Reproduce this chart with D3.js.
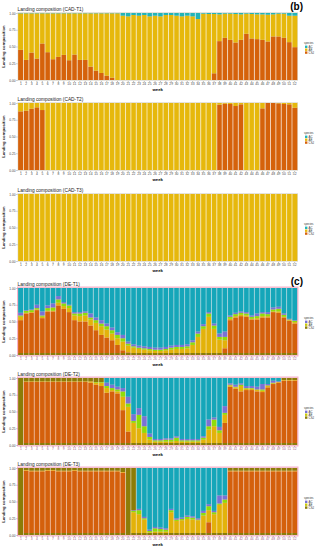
<!DOCTYPE html>
<html lang="en">
<head>
<meta charset="UTF-8">
<title>Landing composition</title>
<script src="https://d3js.org/d3.v7.min.js"></script>
<style>
  body { margin: 0; background: #fff; }
  svg text { font-family: "Liberation Sans", Arial, sans-serif; }
</style>
</head>
<body>
<div id="chart"></div>
<script>
var weeks = [1,2,3,4,5,6,7,8,9,10,11,12,13,14,15,16,17,18,19,20,21,22,23,24,25,26,
             27,28,29,30,31,32,33,34,35,36,37,38,39,40,41,42,43,44,45,46,47,48,49,50,51,52];
var yTicks = [0, 0.25, 0.5, 0.75, 1];
var species = ['AC', 'AE', 'CSJ'];

// ---- CAD panels: CSJ at the bottom, AE fills the rest, AC on top
var cadT1_CSJ = [0.45,0.30,0.41,0.32,0.545,0.415,0.31,0.345,0.375,0.295,0.38,0.30,0.30,
                 0.20,0.14,0.105,0.065,0.035,0,0,0,0,0,0,0,0,
                 0,0,0,0,0,0,0,0,0,0,0.10,0.58,0.63,
                 0.60,0.56,0.60,0.69,0.62,0.61,0.60,0.575,0.65,0.65,0.63,0.565,0.49];
var cadT1_AC = [0.005,0.005,0.005,0.005,0.005,0.005,0.005,0.005,0.005,0.005,0.005,0.005,0.005,
                0.005,0.005,0.005,0.005,0.005,0.005,0.04,0.05,0.03,0.04,0.03,0.05,0.04,
                0.05,0.03,0.03,0.04,0.05,0.04,0.05,0.09,0.01,0.015,0.015,0.02,0.01,
                0.01,0.015,0.02,0.01,0.015,0.02,0.02,0.025,0.02,0.01,0.01,0.04,0.04];

var cadT2_CSJ = [0.875,0.885,0.915,0.935,0.895,0,0,0,0,0,0,0,0,
                 0,0,0,0,0,0,0,0,0,0,0,0,0,
                 0,0,0,0,0,0,0,0,0,0,0,0.975,0.99,
                 0.985,0.955,0.98,0,0,0,0.92,1.0,1.0,0.995,0.985,0.98,0.93];
var cadT2_AC = [0,0,0,0,0,0,0,0,0,0,0,0,0, 0,0,0,0,0,0,0,0,0,0,0,0,0,
                0,0,0,0,0,0,0,0,0,0,0,0,0, 0,0,0,0,0,0,0,0,0,0,0,0,0];

var cadT3_CSJ = [0,0,0,0,0,0,0,0,0,0,0,0,0, 0,0,0,0,0,0,0,0,0,0,0,0,0,
                 0,0,0,0,0,0,0,0,0,0,0,0,0, 0,0,0,0,0,0,0,0,0,0,0,0,0];
var cadT3_AC = [0,0,0,0,0,0,0,0,0,0,0,0,0, 0,0,0,0,0,0,0,0,0,0,0,0,0,
                0,0,0,0,0,0,0,0,0,0,0,0,0, 0,0,0,0,0,0,0,0,0,0,0,0,0];

// ---- DE panels: olive base, orange, yellow, green, purple, then the rest (teal or olive)
var deT1_base = [0.03,0.03,0.03,0.03,0.03,0.03,0.03,0.03,0.03,0.03,0.03,0.03,0.03,
                 0.03,0.03,0.03,0.03,0.03,0.03,0.03,0.03,0.03,0.03,0.03,0.03,0.03,
                 0.03,0.03,0.03,0.03,0.03,0.03,0.03,0.03,0.03,0.03,0.03,0.03,0.03,
                 0.03,0.03,0.03,0.03,0.03,0.03,0.03,0.03,0.03,0.03,0.03,0.03,0.03];
var deT1_CSJ = [0.49,0.59,0.60,0.64,0.52,0.62,0.62,0.71,0.66,0.61,0.49,0.47,0.47,
                0.41,0.34,0.27,0.23,0.19,0.12,0.04,0.01,0,0,0,0,0,
                0,0,0,0,0,0,0,0,0,0,0,0,0.07,
                0.49,0.53,0.55,0.54,0.50,0.50,0.53,0.53,0.61,0.60,0.53,0.48,0.44];
var deT1_AE = [0.05,0.01,0.01,0.01,0.02,0.01,0.01,0.04,0.04,0.06,0.07,0.08,0.09,
               0.09,0.11,0.13,0.12,0.10,0.10,0.13,0.10,0.08,0.06,0.05,0.04,0.03,
               0.03,0.04,0.05,0.06,0.06,0.07,0.12,0.24,0.36,0.54,0.36,0.20,0.12,
               0.02,0.02,0.02,0.02,0.01,0.02,0.02,0.02,0.01,0.02,0.01,0.01,0.02];
var deT1_AEhi = [0.02,0.03,0.03,0.02,0.02,0.04,0.05,0.05,0.04,0.04,0.03,0.04,0.04,
                 0.03,0.04,0.04,0.05,0.05,0.05,0.05,0.03,0.02,0.02,0.02,0.02,0.02,
                 0.02,0.02,0.03,0.03,0.03,0.03,0.04,0.05,0.04,0.05,0.05,0.04,0.05,
                 0.03,0.03,0.03,0.03,0.03,0.03,0.04,0.03,0.03,0.04,0.03,0.01,0.02];
var deT1_AC = [0.04,0.01,0.01,0.05,0.06,0.04,0.06,0.05,0.02,0.01,0.02,0.02,0.02,
               0.06,0.04,0.05,0.04,0.04,0.04,0.05,0.03,0.03,0.03,0.03,0.03,0.03,
               0.03,0.03,0.03,0.03,0.03,0.03,0.03,0.03,0.03,0.02,0.03,0.05,0.08,
               0.02,0.02,0.02,0.02,0.02,0.04,0.02,0.03,0.03,0.03,0.02,0.01,0.01];
var deT1_rest = ('ttttttttttttt' + 'ttttttttttttt' + 'ttttttttttttt' + 'ttttttttttttt').split('');

var deT2_base = [1.0,0.03,0.03,0.03,0.03,0.03,0.03,0.03,0.03,0.03,0.03,0.03,0.03,
                 0.03,0.03,0.03,0.03,0.03,0.03,0.03,0.03,0.03,0.03,0.03,0.03,0.03,
                 0.03,0.03,0.03,0.03,0.03,0.03,0.03,0.03,0.03,0.03,0.03,0.03,0.03,
                 0.03,0.03,0.03,0.03,0.03,0.03,0.03,0.03,0.03,0.03,0.03,0.03,0.03];
var deT2_CSJ = [0,0.91,0.91,0.91,0.91,0.91,0.91,0.91,0.91,0.91,0.91,0.91,0.91,
                0.90,0.87,0.85,0.75,0.77,0.74,0.49,0.17,0,0,0,0,0,
                0,0,0,0,0,0,0,0,0,0,0,0,0.30,
                0.84,0.81,0.77,0.79,0.79,0.77,0.76,0.83,0.88,0.90,0.93,0.93,0.93];
var deT2_AE = [0,0.01,0.01,0.01,0.01,0.01,0.01,0.01,0.01,0.01,0.01,0.01,0.01,
               0.02,0.03,0.05,0.07,0.02,0.03,0.20,0.37,0.30,0.22,0.15,0.05,0.02,
               0.02,0.02,0.02,0.03,0.02,0.02,0.02,0.02,0.05,0.20,0.25,0.15,0.12,
               0.02,0.02,0.08,0.02,0.02,0.02,0.02,0.02,0.01,0.01,0.01,0.01,0.01];
var deT2_AEhi = [0,0,0,0,0,0,0,0,0,0,0,0,0,
                 0,0.01,0.01,0.03,0.03,0.03,0.08,0.05,0.03,0.20,0.10,0.04,0.02,
                 0.02,0.03,0.03,0.05,0.02,0.02,0.02,0.02,0.03,0.05,0.10,0.04,0.03,
                 0.01,0.01,0.02,0.01,0.01,0.01,0.02,0.01,0.01,0,0,0,0];
var deT2_AC = [0,0,0,0,0,0,0,0,0,0,0,0,0,
               0,0,0,0.05,0.05,0.04,0.05,0.10,0.10,0.10,0.15,0.05,0.02,
               0.02,0.02,0.02,0.02,0.02,0.02,0.02,0.02,0.02,0.10,0.03,0.05,0.10,
               0.02,0.03,0.02,0.03,0.03,0.04,0.08,0.02,0.03,0.01,0,0,0];
var deT2_rest = ('ooooooooooooo' + 'ooottttttttttt'.slice(0, 13) + 'ttttttttttttt' + 'ttttttttttooo').split('');

var deT3_base = [1.0,0.03,0.03,0.03,0.03,0.03,0.03,0.03,0.03,0.03,0.03,0.03,0.03,
                 0.03,0.03,0.03,0.03,0.03,0.03,0.03,1.0,0.03,0.03,0.03,0.03,0.03,
                 0.03,0.03,0.03,0.03,0.03,0.03,0.03,0.03,0.03,0.03,0.03,0.03,0.03,
                 0.03,0.03,0.03,0.03,0.03,0.03,0.03,0.03,0.03,0.03,0.03,0.03,0.03];
var deT3_CSJ = [0,0.93,0.92,0.92,0.92,0.93,0.93,0.92,0.92,0.92,0.93,0.92,0.92,
                0.92,0.92,0.92,0.92,0.92,0.92,0.90,0,0,0,0,0,0,
                0,0,0,0,0,0,0,0,0,0.16,0,0,0,
                0.92,0.92,0.92,0.92,0.92,0.92,0.92,0.92,0.92,0.92,0.92,0.92,0.92];
var deT3_AE = [0,0.01,0.01,0.01,0.01,0.01,0.01,0.01,0.01,0.01,0.01,0.01,0.01,
               0.01,0.01,0.01,0.01,0.01,0.01,0.01,0,0.31,0.28,0.20,0.01,0.02,
               0.02,0.02,0.31,0.18,0.19,0.21,0.20,0.19,0.26,0.18,0.28,0.42,0.45,
               0.01,0.01,0.01,0.01,0.01,0.01,0.01,0.01,0.01,0.01,0.01,0.01,0.01];
var deT3_AEhi = [0,0,0,0,0,0,0,0,0,0,0,0,0,
                 0,0,0,0,0,0,0,0,0.02,0.06,0.02,0.02,0.05,
                 0.04,0.03,0.03,0.02,0.02,0.03,0.03,0.01,0.04,0.06,0.03,0.02,0.05,
                 0,0,0,0,0,0,0,0,0,0,0,0,0];
var deT3_AC = [0,0,0,0,0,0,0,0,0,0,0,0,0,
               0,0,0,0,0,0,0,0,0.01,0.02,0.02,0.02,0.02,
               0.02,0.02,0.02,0.02,0.02,0.02,0.02,0.02,0.03,0.03,0.02,0.12,0.06,
               0,0,0,0,0,0,0,0,0,0,0,0,0];
var deT3_rest = ('ooooooooooooo' + 'oooooooootttt' + 'ttttttttttttt' + 'ooooooooooooo').split('');

// colours
var cadColor = {AC: '#22b4b9', AE: '#e6b80c', CSJ: '#d5620b'};
var deColor = {olive: '#8c7c08', orange: '#d4600c', yellow: '#e3b20a', green: '#8fdc0a',
               purple: '#7a72d4', teal: '#15a6b9'};
var deLegend = {AC: deColor.purple, AE: '#c9c80a', CSJ: deColor.olive};
var restColor = {t: deColor.teal, o: deColor.olive};

var panels = [
  {title: 'Landing composition (CAD-T1)', tag: '(b)', top: 13, de: false,
   layers: [{values: cadT1_CSJ, color: cadColor.CSJ}, {rest: 'AE'}, {values: cadT1_AC, color: cadColor.AC}]},
  {title: 'Landing composition (CAD-T2)', top: 103, de: false,
   layers: [{values: cadT2_CSJ, color: cadColor.CSJ}, {rest: 'AE'}, {values: cadT2_AC, color: cadColor.AC}]},
  {title: 'Landing composition (CAD-T3)', top: 194, de: false,
   layers: [{values: cadT3_CSJ, color: cadColor.CSJ}, {rest: 'AE'}, {values: cadT3_AC, color: cadColor.AC}]},
  {title: 'Landing composition (DE-T1)', tag: '(c)', top: 288, de: true,
   layers: [{values: deT1_base, color: deColor.olive}, {values: deT1_CSJ, color: deColor.orange},
            {values: deT1_AE, color: deColor.yellow}, {values: deT1_AEhi, color: deColor.green},
            {values: deT1_AC, color: deColor.purple}, {rest: deT1_rest}]},
  {title: 'Landing composition (DE-T2)', top: 378, de: true,
   layers: [{values: deT2_base, color: deColor.olive}, {values: deT2_CSJ, color: deColor.orange},
            {values: deT2_AE, color: deColor.yellow}, {values: deT2_AEhi, color: deColor.green},
            {values: deT2_AC, color: deColor.purple}, {rest: deT2_rest}]},
  {title: 'Landing composition (DE-T3)', top: 468, de: true,
   layers: [{values: deT3_base, color: deColor.olive}, {values: deT3_CSJ, color: deColor.orange},
            {values: deT3_AE, color: deColor.yellow}, {values: deT3_AEhi, color: deColor.green},
            {values: deT3_AC, color: deColor.purple}, {rest: deT3_rest}]}
];

var W = 324, H = 550, left = 17.5, right = 298, plotH = 67;

var svg = d3.select('#chart').append('svg')
    .attr('width', W).attr('height', H);

var x = d3.scaleBand().domain(weeks).range([left, right]).paddingInner(0).paddingOuter(0.12);

function segments(p) {
  var segs = [];
  weeks.forEach(function (w, i) {
    var known = d3.sum(p.layers, function (l) { return l.values ? l.values[i] : 0; });
    var y0 = 0;
    p.layers.forEach(function (l) {
      var v, c;
      if (l.values) { v = l.values[i]; c = l.color; }
      else {
        v = Math.max(0, 1 - known);
        c = typeof l.rest === 'string' ? cadColor[l.rest] : restColor[l.rest[i]];
      }
      var y1 = Math.min(1, y0 + v);
      if (y1 > y0) segs.push({week: w, y0: y0, y1: y1, color: c});
      y0 = y1;
    });
  });
  return segs;
}

panels.forEach(function (p) {
  var y = d3.scaleLinear().domain([0, 1]).range([p.top + plotH, p.top]);
  var g = svg.append('g');

  // panel background
  g.append('rect')
      .attr('x', left).attr('y', p.top - 1)
      .attr('width', right - left).attr('height', plotH + 2)
      .attr('fill', p.de ? '#f6c9d6' : '#e4e2dc');

  g.selectAll('rect.seg').data(segments(p)).join('rect')
      .attr('class', 'seg')
      .attr('x', function (d) { return x(d.week); })
      .attr('width', x.bandwidth())
      .attr('y', function (d) { return y(d.y1); })
      .attr('height', function (d) { return y(d.y0) - y(d.y1); })
      .attr('fill', function (d) { return d.color; });

  // light gaps between bars
  g.selectAll('line.sep').data(weeks.slice(1)).join('line')
      .attr('class', 'sep')
      .attr('x1', function (d) { return x(d); }).attr('x2', function (d) { return x(d); })
      .attr('y1', y(0)).attr('y2', y(1))
      .attr('stroke', '#fff')
      .attr('stroke-opacity', p.de ? 0.5 : 0.7)
      .attr('stroke-width', 0.9);

  if (p.de) {
    g.append('rect')
        .attr('x', left).attr('y', p.top - 1)
        .attr('width', right - left).attr('height', plotH + 2)
        .attr('fill', 'none').attr('stroke', '#f7b3cb').attr('stroke-width', 1);
  }

  // y axis
  var ya = g.append('g').attr('transform', 'translate(' + left + ',0)')
      .call(d3.axisLeft(y).tickValues(yTicks).tickFormat(d3.format('.2f')).tickSize(1.2).tickPadding(0.8));
  ya.select('.domain').remove();
  ya.selectAll('line').attr('stroke', '#555').attr('stroke-width', 0.4);
  ya.selectAll('text').attr('font-size', 3.2).attr('fill', '#444');

  // x axis
  var xa = g.append('g').attr('transform', 'translate(0,' + (p.top + plotH + 1) + ')')
      .call(d3.axisBottom(x).tickSize(1.2).tickPadding(0.8));
  xa.select('.domain').remove();
  xa.selectAll('line').attr('stroke', '#555').attr('stroke-width', 0.4);
  xa.selectAll('text').attr('font-size', 3.3).attr('fill', p.de ? '#a45f86' : '#444');

  g.append('text')
      .attr('x', (left + right) / 2).attr('y', p.top + plotH + 10.5)
      .attr('text-anchor', 'middle').attr('font-size', 4.3).attr('font-weight', 'bold')
      .text('week');

  g.append('text')
      .attr('transform', 'translate(5,' + (p.top + plotH / 2) + ') rotate(-90)')
      .attr('text-anchor', 'middle').attr('font-size', 4.2).attr('font-weight', 'bold')
      .attr('fill', '#222')
      .text('Landing composition');

  g.append('text')
      .attr('x', left).attr('y', p.top - 2.5)
      .attr('font-size', 4.8).attr('fill', '#222')
      .text(p.title);

  if (p.tag) {
    g.append('text')
        .attr('x', 303).attr('y', p.top - 3.5)
        .attr('text-anchor', 'end')
        .attr('font-family', '"Liberation Serif", "DejaVu Serif", serif')
        .attr('font-size', 10).attr('font-weight', 'bold')
        .text(p.tag);
  }

  // legend
  var lg = g.append('g').attr('transform', 'translate(304,' + (p.top + 31) + ')');
  lg.append('text').attr('x', 0).attr('y', 0).attr('font-size', 2.8).attr('fill', '#333').text('species');
  var keys = lg.selectAll('g.key').data(species).join('g')
      .attr('class', 'key')
      .attr('transform', function (d, i) { return 'translate(1,' + (1.6 + i * 2.9) + ')'; });
  keys.append('rect').attr('width', 2.4).attr('height', 2.4)
      .attr('fill', function (d) { return p.de ? deLegend[d] : cadColor[d]; });
  keys.append('text').attr('x', 3.6).attr('y', 2.1).attr('font-size', 2.9).attr('fill', '#333')
      .text(function (d) { return d; });
});
</script>
</body>
</html>
